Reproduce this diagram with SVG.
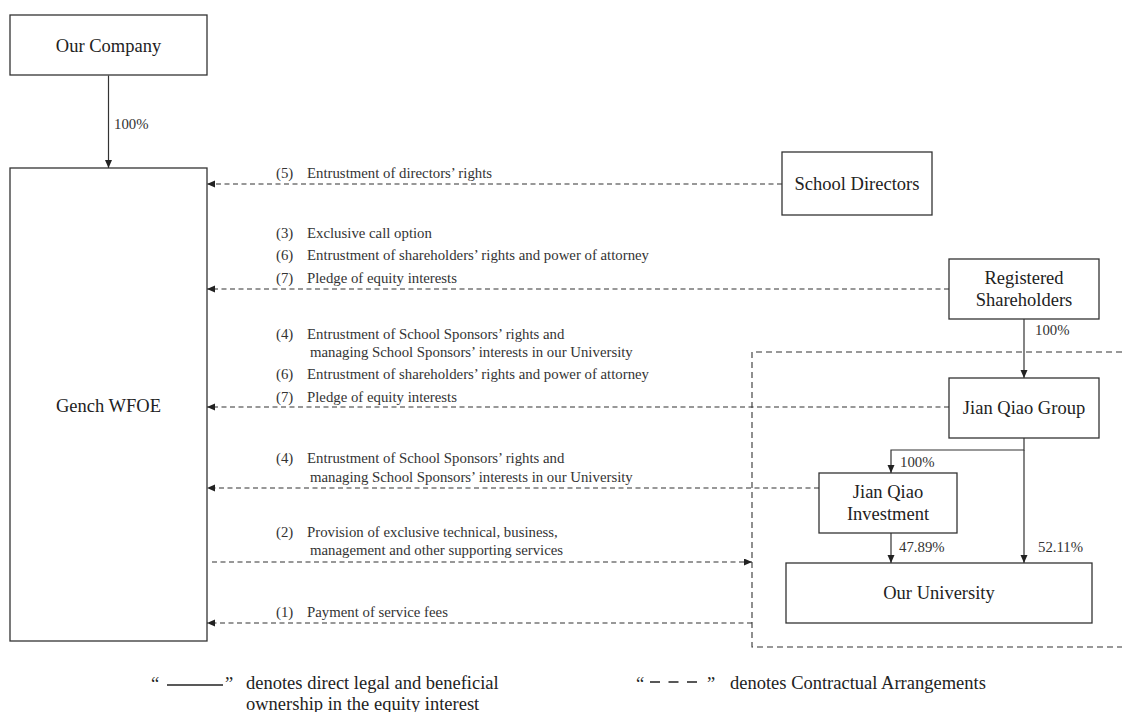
<svg xmlns="http://www.w3.org/2000/svg" width="1122" height="712" viewBox="0 0 1122 712">
<style>
.box{fill:#fff;stroke:#333;stroke-width:1.3}
.nt{font-family:"Liberation Serif","Times New Roman",serif;font-size:18.5px;fill:#222;text-anchor:middle}
.lb{font-family:"Liberation Serif","Times New Roman",serif;font-size:14.8px;fill:#333}
.lg{font-family:"Liberation Serif","Times New Roman",serif;font-size:18.5px;fill:#222}
.sol{fill:none;stroke:#333;stroke-width:1.2}
.dash{fill:none;stroke:#333;stroke-width:1.2;stroke-dasharray:5,3.5}
.dbox{fill:none;stroke:#333;stroke-width:1.1;stroke-dasharray:6,4}
</style>
<defs>
<marker id="ah" markerUnits="userSpaceOnUse" markerWidth="9" markerHeight="8" refX="8" refY="3.5" orient="auto">
<path d="M0,0 L8,3.5 L0,7 z" fill="#222"/>
</marker>
</defs>
<rect width="1122" height="712" fill="#fff"/>

<g id="contract-boundary">
<path class="dbox" d="M1122,352 H752 V647 H1122"/>
</g>

<g id="connectors">
<path class="sol" d="M108.5,75.5 V168" marker-end="url(#ah)"/>
<path class="sol" d="M1024,319 V378" marker-end="url(#ah)"/>
<path class="sol" d="M1024,438 V450 H891 V473" marker-end="url(#ah)"/>
<path class="sol" d="M1024,450 V563" marker-end="url(#ah)"/>
<path class="sol" d="M891,533 V563" marker-end="url(#ah)"/>
<path class="dash" d="M782,184 H207" marker-end="url(#ah)"/>
<path class="dash" d="M949,289 H207" marker-end="url(#ah)"/>
<path class="dash" d="M949,407 H207" marker-end="url(#ah)"/>
<path class="dash" d="M819,488 H207" marker-end="url(#ah)"/>
<path class="dash" d="M212,562 H752" marker-end="url(#ah)"/>
<path class="dash" d="M752,623 H207" marker-end="url(#ah)"/>
<text class="lb" x="114" y="129">100%</text>
<text class="lb" x="1035" y="335">100%</text>
<text class="lb" x="900" y="467">100%</text>
<text class="lb" x="899" y="552">47.89%</text>
<text class="lb" x="1038" y="552">52.11%</text>
<text class="lb" x="276" y="178">(5)</text><text class="lb" x="307" y="178">Entrustment of directors’ rights</text>
<text class="lb" x="276" y="238">(3)</text><text class="lb" x="307" y="238">Exclusive call option</text>
<text class="lb" x="276" y="260">(6)</text><text class="lb" x="307" y="260">Entrustment of shareholders’ rights and power of attorney</text>
<text class="lb" x="276" y="283">(7)</text><text class="lb" x="307" y="283">Pledge of equity interests</text>
<text class="lb" x="276" y="339">(4)</text><text class="lb" x="307" y="339">Entrustment of School Sponsors’ rights and</text>
<text class="lb" x="310" y="357">managing School Sponsors’ interests in our University</text>
<text class="lb" x="276" y="379">(6)</text><text class="lb" x="307" y="379">Entrustment of shareholders’ rights and power of attorney</text>
<text class="lb" x="276" y="402">(7)</text><text class="lb" x="307" y="402">Pledge of equity interests</text>
<text class="lb" x="276" y="463">(4)</text><text class="lb" x="307" y="463">Entrustment of School Sponsors’ rights and</text>
<text class="lb" x="310" y="482">managing School Sponsors’ interests in our University</text>
<text class="lb" x="276" y="537">(2)</text><text class="lb" x="307" y="537">Provision of exclusive technical, business,</text>
<text class="lb" x="310" y="555">management and other supporting services</text>
<text class="lb" x="276" y="617">(1)</text><text class="lb" x="307" y="617">Payment of service fees</text>
</g>

<g id="our-company"><rect class="box" x="10" y="15" width="197" height="60"/><text class="nt" x="108.5" y="52">Our Company</text></g>
<g id="gench-wfoe"><rect class="box" x="10" y="168" width="197" height="473"/><text class="nt" x="108.5" y="412">Gench WFOE</text></g>
<g id="school-directors"><rect class="box" x="782" y="152" width="150" height="63"/><text class="nt" x="857" y="190">School Directors</text></g>
<g id="registered-shareholders"><rect class="box" x="949" y="259" width="150" height="60"/><text class="nt" x="1024" y="284">Registered</text><text class="nt" x="1024" y="306">Shareholders</text></g>
<g id="jian-qiao-group"><rect class="box" x="949" y="378" width="150" height="60"/><text class="nt" x="1024" y="414">Jian Qiao Group</text></g>
<g id="jian-qiao-investment"><rect class="box" x="819" y="473" width="138" height="60"/><text class="nt" x="888" y="498">Jian Qiao</text><text class="nt" x="888" y="520">Investment</text></g>
<g id="our-university"><rect class="box" x="786" y="563" width="306" height="60"/><text class="nt" x="939" y="599">Our University</text></g>

<g id="legend">
<text class="lg" x="151" y="690">“</text>
<line x1="167" y1="685" x2="223" y2="685" stroke="#222" stroke-width="1.6"/>
<text class="lg" x="225" y="690">”</text>
<text class="lg" x="246" y="689">denotes direct legal and beneficial</text>
<text class="lg" x="246" y="710">ownership in the equity interest</text>
<text class="lg" x="636" y="690">“</text>
<line x1="650" y1="682" x2="697" y2="682" stroke="#222" stroke-width="1.6" stroke-dasharray="10,8.5"/>
<text class="lg" x="707" y="690">”</text>
<text class="lg" x="730" y="689">denotes Contractual Arrangements</text>
</g>
</svg>
